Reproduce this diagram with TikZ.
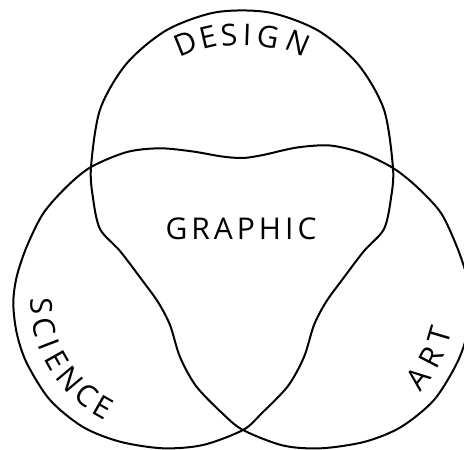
\documentclass[tikz,border=0pt]{standalone}
\usepackage{fontspec}
\setmainfont{Open Sans}
\usetikzlibrary{calc}
\begin{document}
\begin{tikzpicture}[x=1pt,y=-1pt,
  outline/.style={line width=2pt, line join=round},
  letter/.style={font=\fontsize{30}{30}\selectfont, inner sep=0pt, text height=21.4pt, text depth=0pt}]
\useasboundingbox (0,0) rectangle (464,450);
\clip (0,0) rectangle (464,450);
% one closed curve: three outer arcs and three wavy inner bridges
\draw[outline] plot[smooth cycle] coordinates {
  % top (DESIGN) outer arc, right crossing -> left crossing
  (393,168) (383.9,109.4) (357.7,63.9) (317.5,30.2) (268.2,12.3) (215.8,12.3)
  (166.5,30.2) (126.3,63.9) (100.1,109.4) (91,167)
  % left wavy, down to bottom crossing
  (93,198) (100,229) (120,251) (142,280) (158,302) (170,325) (180,357)
  (196,386) (222,413) (243,430)
  % right (ART) outer arc
  (283,445.5) (321,448.3) (365,441.7) (401,427) (434,400) (457,363)
  (467.5,333) (470.5,303) (467,277) (457,247) (441,213) (417,187) (393,168)
  % top wavy, right -> left
  (362,153) (330,145.5) (297,147.5) (263,155) (243,158) (222,156.5)
  (193,151.5) (160,148.3) (127,152) (91,167)
  % left (SCIENCE) outer arc
  (66.7,186.7) (43.3,213.3) (26.7,246.7) (16.7,276.7) (13.3,303) (16.7,333)
  (26.7,363) (50,400) (83,427) (120,441.7) (163,448.3) (203,445) (243,430)
  % right wavy, up to right crossing
  (262,413) (288,386) (304,357) (314,325) (326,302) (342,280) (364,251)
  (384,229) (391,198)
};
% DESIGN
\node[letter, rotate=22]  (d1) at (185.7,43.3) {D};
\node[letter, rotate=13]  (d2) at (208.3,36.7) {E};
\node[letter, rotate=5]   (d3) at (229,35)     {S};
\node[letter, rotate=-2]  (d4) at (247.3,35)   {I};
\node[letter, rotate=-10] (d5) at (268,36.7)   {G};
\node[letter, rotate=-23] (d6) at (298.5,43.5) {N};
% SCIENCE
\foreach \ch/\ang [count=\i] in {S/183,C/193,I/201,E/209.5,N/220,C/231,E/240.5}
  \node[letter, rotate=\ang-270] (sci\i) at ($(164,300)+(-\ang:123)$) {\ch};
% ART
\foreach \ch/\ang [count=\i] in {A/-38.6,R/-27.4,T/-16.5}
  \node[letter, rotate=\ang+90] (art\i) at ($(320,300)+(-\ang:125)$) {\ch};
% GRAPHIC
\node[letter] (graphic) at (241,229)
  {G\kern4pt R\kern4pt A\kern4pt P\kern4pt H\kern4pt I\kern4pt C};
\end{tikzpicture}
\end{document}
